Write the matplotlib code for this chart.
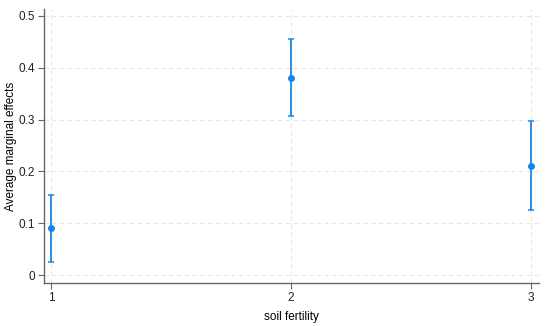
import matplotlib
matplotlib.use("Agg")
import matplotlib.pyplot as plt

# average marginal effects by soil fertility level
levels = [1, 2, 3]
effects = [0.091, 0.381, 0.211]
ci_low = [0.026, 0.307, 0.126]
ci_high = [0.155, 0.456, 0.297]
yticks = [0, 0.1, 0.2, 0.3, 0.4, 0.5]
ytick_labels = ["0", "0.1", "0.2", "0.3", "0.4", "0.5"]

plt.rcParams["font.family"] = ["Liberation Sans", "DejaVu Sans"]

fig = plt.figure(figsize=(5.5, 3.26), dpi=100)
ax = fig.add_axes([44 / 550, 1 - 283 / 326, 495 / 550, 274 / 326])

color = "#1a85e8"
err = [[e - lo for e, lo in zip(effects, ci_low)],
       [hi - e for e, hi in zip(effects, ci_high)]]
ax.errorbar(levels, effects, yerr=err, fmt="o", color=color, ms=4,
            elinewidth=1.3, capsize=2.5, capthick=1.1, zorder=3)

ax.set_xlim(0.971, 3.033)
ax.set_ylim(-0.0154, 0.5135)
ax.set_xticks(levels)
ax.set_yticks(yticks)
ax.set_yticklabels(ytick_labels)

ax.grid(True, color="#e6e6e6", linestyle=(0, (4, 3)), linewidth=0.8)
ax.set_axisbelow(True)

for side in ["top", "right"]:
    ax.spines[side].set_visible(False)
for side in ["left", "bottom"]:
    ax.spines[side].set_color("#666666")
    ax.spines[side].set_linewidth(1.0)

ax.tick_params(axis="both", labelsize=8.5, length=4, width=0.8, pad=2.5,
               direction="out", colors="#666666", labelcolor="#222222")
ax.set_xlabel("soil fertility", fontsize=8.5, labelpad=5)
ax.set_ylabel("Average marginal effects", fontsize=8.5)
ax.yaxis.set_label_coords(-27 / 495, 0.5)

fig.savefig("out.png", dpi=100)
